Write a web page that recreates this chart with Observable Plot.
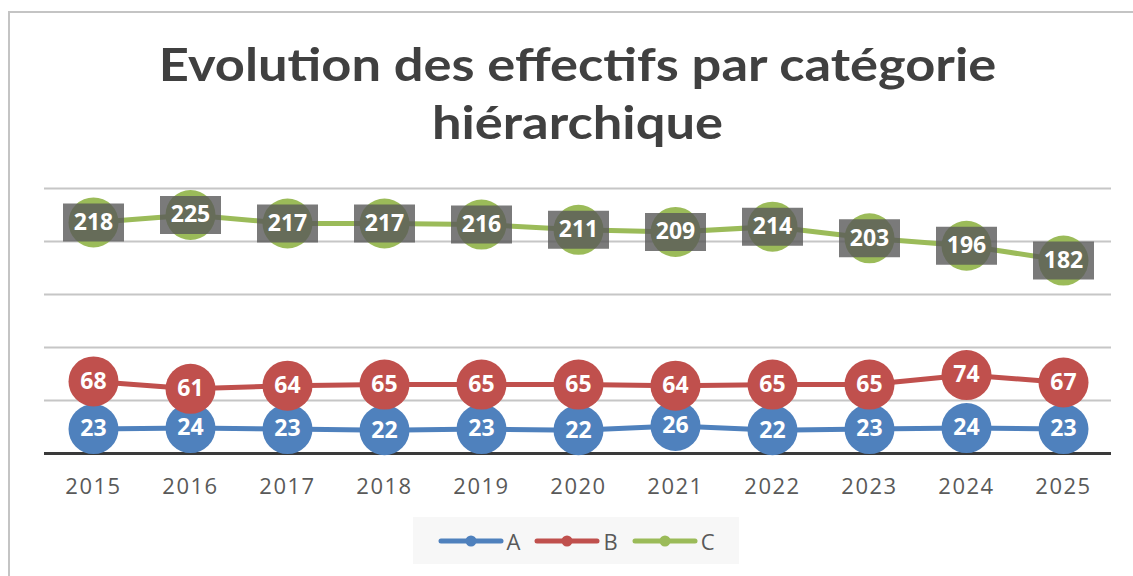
<!DOCTYPE html>
<html>
<head>
<meta charset="utf-8">
<script src="https://cdn.jsdelivr.net/npm/d3@7"></script>
<script src="https://cdn.jsdelivr.net/npm/@observablehq/plot@0.6"></script>
<style>
  html, body { margin: 0; padding: 0; background: #ffffff; }
  #page { position: relative; width: 1133px; height: 576px; overflow: hidden; background: #fff; }
  #frame { position: absolute; left: 8px; top: 11px; width: 1200px; height: 700px;
           border-top: 2px solid #c4c4c4; border-left: 2px solid #c4c4c4; }
  #title { position: absolute; left: 0; top: 35px; width: 1133px; text-align: center;
           font-family: Lato, "Open Sans", sans-serif; font-weight: bold; font-size: 46px;
           line-height: 58px; color: #404040; transform: translateX(11px) scaleX(1.14); transform-origin: 566.5px 0; }
  #chart { position: absolute; left: 0; top: 0; }
  #chart g[aria-label="x-axis tick label"] text { letter-spacing: 1.5px; }
  #legend { position: absolute; left: 413px; top: 517px; width: 326px; height: 47px;
            background: #f7f7f7; display: flex; align-items: center; justify-content: center; gap: 6px;
            font-family: "Open Sans", sans-serif; font-size: 22px; color: #595959; }
  .item { display: flex; align-items: center; margin: 0 4px; }
  .item svg { margin-right: 3px; }
</style>
</head>
<body>
<div id="page">
  <div id="frame"></div>
  <div id="title">Evolution des effectifs par catégorie<br>hiérarchique</div>
  <div id="chart"></div>
  <div id="legend"></div>
</div>
<script>
const years = ["2015","2016","2017","2018","2019","2020","2021","2022","2023","2024","2025"];
const seriesA = [23, 24, 23, 22, 23, 22, 26, 22, 23, 24, 23];
const seriesB = [68, 61, 64, 65, 65, 65, 64, 65, 65, 74, 67];
const seriesC = [218, 225, 217, 217, 216, 211, 209, 214, 203, 196, 182];
const seriesNames = ["A", "B", "C"];
const seriesColors = ["#4f81bd", "#c0504d", "#9bbb59"];
const yTicks = [0, 50, 100, 150, 200, 250];

const seriesValues = [seriesA, seriesB, seriesC];
const data = seriesNames.map((name, s) =>
  years.map((year, i) => ({year, series: name, value: seriesValues[s][i]})));

const boxSymbol = { draw(ctx) { ctx.rect(-30.5, -19, 61, 38); } };

const marks = [
  Plot.ruleY(yTicks.filter(d => d > 0), {stroke: "#c6c6c6", strokeWidth: 2}),
  Plot.ruleY([0], {stroke: "#3a3a3a", strokeWidth: 3}),
  Plot.axisX({tickSize: 0, tickPadding: 25, fontSize: 22, fill: "#595959",
              fontFamily: "'Open Sans', sans-serif"})
];
data.forEach((rows, s) => {
  marks.push(Plot.line(rows, {x: "year", y: "value", stroke: seriesColors[s], strokeWidth: 5}));
  marks.push(Plot.dot(rows, {x: "year", y: "value", fill: seriesColors[s], r: 25}));
});
// label boxes for series C
marks.push(Plot.dot(data[2], {x: "year", y: "value", symbol: boxSymbol, r: 10,
                              fill: "#595959", fillOpacity: 0.8}));
data.forEach(rows => {
  marks.push(Plot.text(rows, {x: "year", y: "value", text: d => String(d.value),
     fill: "white", fontWeight: "bold", fontSize: 23, fontFamily: "'Open Sans', sans-serif",
     textAnchor: "middle", lineAnchor: "middle"}));
});

const chart = Plot.plot({
  width: 1133, height: 576,
  marginTop: 188, marginBottom: 123, marginLeft: 44, marginRight: 22,
  x: {type: "point", domain: years, padding: 0.5, label: null, axis: null},
  y: {domain: [0, 250], axis: null},
  style: {background: "transparent", overflow: "visible"},
  marks
});
document.getElementById("chart").appendChild(chart);

const legend = document.getElementById("legend");
seriesNames.forEach((name, s) => {
  const item = document.createElement("div");
  item.className = "item";
  item.innerHTML = `<svg width="66" height="14"><line x1="3" y1="7" x2="63" y2="7" stroke="${seriesColors[s]}" stroke-width="5" stroke-linecap="round"/><circle cx="33" cy="7" r="5.5" fill="${seriesColors[s]}"/></svg><span>${name}</span>`;
  legend.appendChild(item);
});
</script>
</body>
</html>
